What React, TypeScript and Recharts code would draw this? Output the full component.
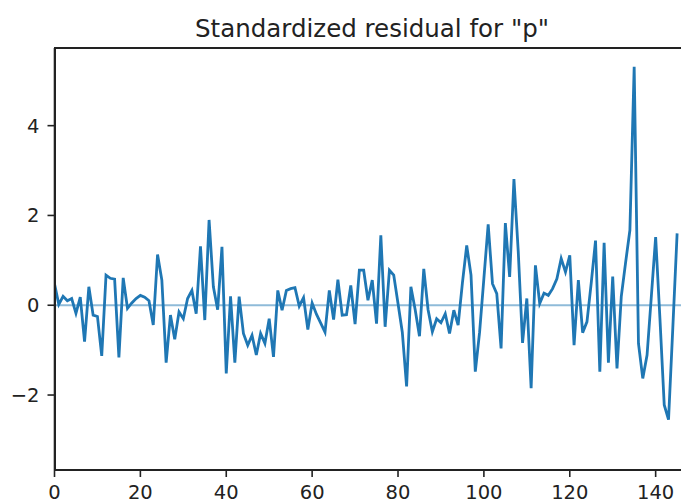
import { LineChart, Line, XAxis, YAxis, ReferenceLine } from 'recharts';

const title = 'Standardized residual for "p"';

const residuals = [
  0.48, 0.02, 0.2, 0.1, 0.15, -0.18, 0.18, -0.81, 0.41, -0.22,
  -0.25, -1.13, 0.67, 0.6, 0.58, -1.16, 0.61, -0.07, 0.05, 0.15,
  0.22, 0.18, 0.1, -0.44, 1.13, 0.56, -1.28, -0.22, -0.76, -0.15,
  -0.3, 0.15, 0.33, -0.19, 1.31, -0.33, 1.9, 0.41, -0.1, 1.3,
  -1.52, 0.2, -1.28, 0.19, -0.63, -0.89, -0.67, -1.11, -0.63, -0.85,
  -0.3, -1.15, 0.33, -0.11, 0.33, 0.37, 0.39, -0.02, 0.17, -0.54,
  0.05, -0.2, -0.4, -0.6, 0.33, -0.32, 0.57, -0.22, -0.21, 0.44,
  -0.42, 0.78, 0.78, 0.11, 0.56, -0.41, 1.56, -0.48, 0.78, 0.67,
  0.04, -0.6, -1.81, 0.41, -0.1, -0.69, 0.81, -0.1, -0.59, -0.3,
  -0.39, -0.19, -0.63, -0.11, -0.44, 0.5, 1.33, 0.67, -1.48, -0.6,
  0.6, 1.8, 0.48, 0.26, -0.96, 1.83, 0.63, 2.81, 1.2, -0.84,
  0.15, -1.85, 0.89, 0.04, 0.27, 0.22, 0.37, 0.59, 1.04, 0.74,
  1.11, -0.89, 0.56, -0.61, -0.37, 0.5, 1.44, -1.48, 1.39, -1.28,
  0.64, -1.41, 0.2, 0.95, 1.67, 5.31, -0.85, -1.63, -1.11, 0.2,
  1.52, -0.3, -2.22, -2.55, -0.5, 1.6,
];

const xTicks = [0, 20, 40, 60, 80, 100, 120, 140];
const yTicks = [-2, 0, 2, 4];
const xDomain = [0, 148];
const yDomain = [-3.67, 5.73];

const data = residuals.map((v, i) => ({ x: i, resid: v }));

const font = { fontFamily: 'DejaVu Sans', fontSize: 19.5, fill: '#222' };
const axisStroke = { stroke: '#222', strokeWidth: 1.6 };

export default function App() {
  return (
    <div
      style={{
        position: 'fixed',
        top: 0,
        left: 0,
        width: 681,
        height: 504,
        overflow: 'hidden',
        background: '#fff',
      }}
    >
      <div
        style={{
          position: 'absolute',
          top: 14,
          left: 0,
          width: 744,
          textAlign: 'center',
          fontFamily: 'DejaVu Sans',
          fontSize: 24.5,
          color: '#222',
          whiteSpace: 'nowrap',
        }}
      >
        {title}
      </div>
      <div style={{ position: 'absolute', top: 0, left: 0 }}>
        <LineChart
          width={700}
          height={504}
          data={data}
          margin={{ top: 48, right: 10, bottom: 0, left: 0 }}
        >
          <XAxis
            dataKey="x"
            type="number"
            domain={xDomain}
            ticks={xTicks}
            allowDataOverflow
            height={34}
            tick={font}
            tickSize={7}
            tickMargin={8}
            axisLine={axisStroke}
            tickLine={axisStroke}
          />
          <YAxis
            type="number"
            domain={yDomain}
            ticks={yTicks}
            allowDataOverflow
            width={54.5}
            tick={font}
            tickSize={7}
            tickMargin={8}
            tickFormatter={(v: number) => String(v).replace('-', '\u2212')}
            axisLine={axisStroke}
            tickLine={axisStroke}
          />
          <ReferenceLine
            y={0}
            stroke="#1f77b4"
            strokeOpacity={0.5}
            strokeWidth={2}
          />
          <Line
            type="linear"
            dataKey="resid"
            stroke="#1f77b4"
            strokeWidth={2.8}
            dot={false}
            isAnimationActive={false}
          />
        </LineChart>
      </div>
      {/* box around the axes (top and right spines) */}
      <div
        style={{
          position: 'absolute',
          zIndex: 5,
          pointerEvents: 'none',
          boxSizing: 'border-box',
          top: 47,
          left: 53.7,
          width: 637,
          height: 424,
          border: '2px solid #222',
        }}
      />
    </div>
  );
}
